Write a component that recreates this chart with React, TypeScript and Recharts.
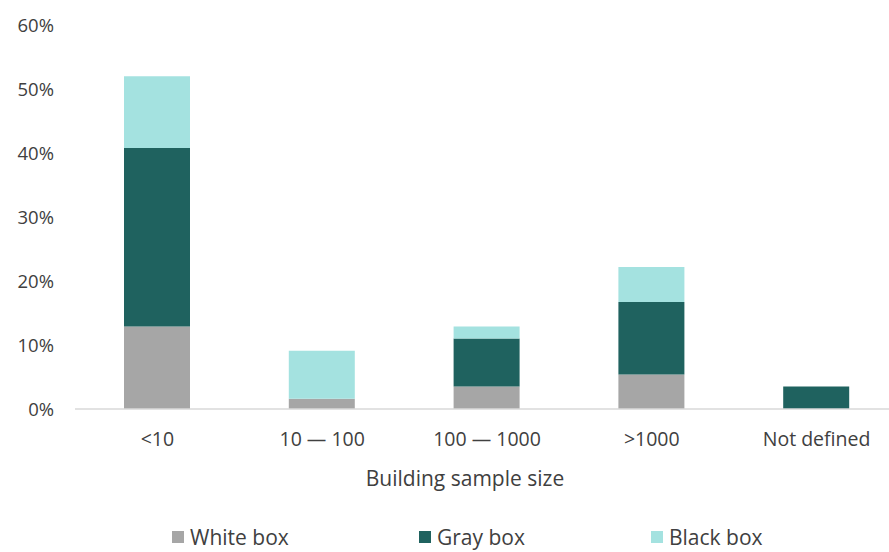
import { BarChart, Bar, XAxis, YAxis, Legend, Label } from "recharts";

const categories = ["<10", "10 — 100", "100 — 1000", ">1000", "Not defined"];
const whiteBox = [12.9, 1.6, 3.5, 5.4, 0];
const grayBox = [27.9, 0, 7.5, 11.3, 3.5];
const blackBox = [11.2, 7.5, 1.9, 5.5, 0];
const yTicks = [0, 10, 20, 30, 40, 50, 60];

const series = [
  { key: "white", name: "White box", color: "#a6a6a6" },
  { key: "gray", name: "Gray box", color: "#1f625f" },
  { key: "black", name: "Black box", color: "#a4e2e0" },
];

const data = categories.map((name, i) => ({
  name,
  white: whiteBox[i],
  gray: grayBox[i],
  black: blackBox[i],
}));

const font = "'Open Sans', 'Noto Sans', sans-serif";
const textColor = "#404040";

function LegendBox() {
  const widths = [247, 232, 200];
  return (
    <div style={{ display: "flex", paddingLeft: 172, height: 30, lineHeight: "30px", fontFamily: font, fontSize: 21, color: textColor }}>
      {series.map((s, i) => (
        <div key={s.key} style={{ display: "flex", alignItems: "center", width: widths[i] }}>
          <span style={{ width: 12, height: 12, background: s.color, marginRight: 6, display: "inline-block" }} />
          <span>{s.name}</span>
        </div>
      ))}
    </div>
  );
}

export default function App() {
  return (
    <div style={{ position: "absolute", left: 0, top: 0, width: 889, height: 552, overflow: "hidden", background: "#fff" }}>
      <BarChart
        width={899}
        height={552}
        data={data}
        margin={{ top: 25, right: 0, bottom: 0, left: 0 }}
        barSize={66}
      >
        <YAxis
          width={75}
          domain={[0, 60]}
          ticks={yTicks}
          tickFormatter={(v) => `${v}%`}
          axisLine={false}
          tickLine={false}
          tickSize={0}
          tickMargin={21}
          tick={{ fontSize: 18.5, fill: textColor, fontFamily: font }}
        />
        <XAxis
          dataKey="name"
          height={113}
          axisLine={{ stroke: "#d9d9d9", strokeWidth: 1.5 }}
          tickLine={false}
          tickSize={0}
          tickMargin={23}
          tick={{ fontSize: 19.5, fill: textColor, fontFamily: font }}
        >
          <Label
            value="Building sample size"
            position="insideTop"
            offset={62}
            dx={-22}
            style={{ fontSize: 21, fill: textColor, fontFamily: font }}
          />
        </XAxis>
        <Legend verticalAlign="bottom" content={() => <LegendBox />} />
        {series.map((s) => (
          <Bar key={s.key} dataKey={s.key} name={s.name} stackId="a" fill={s.color} isAnimationActive={false} />
        ))}
      </BarChart>
    </div>
  );
}
